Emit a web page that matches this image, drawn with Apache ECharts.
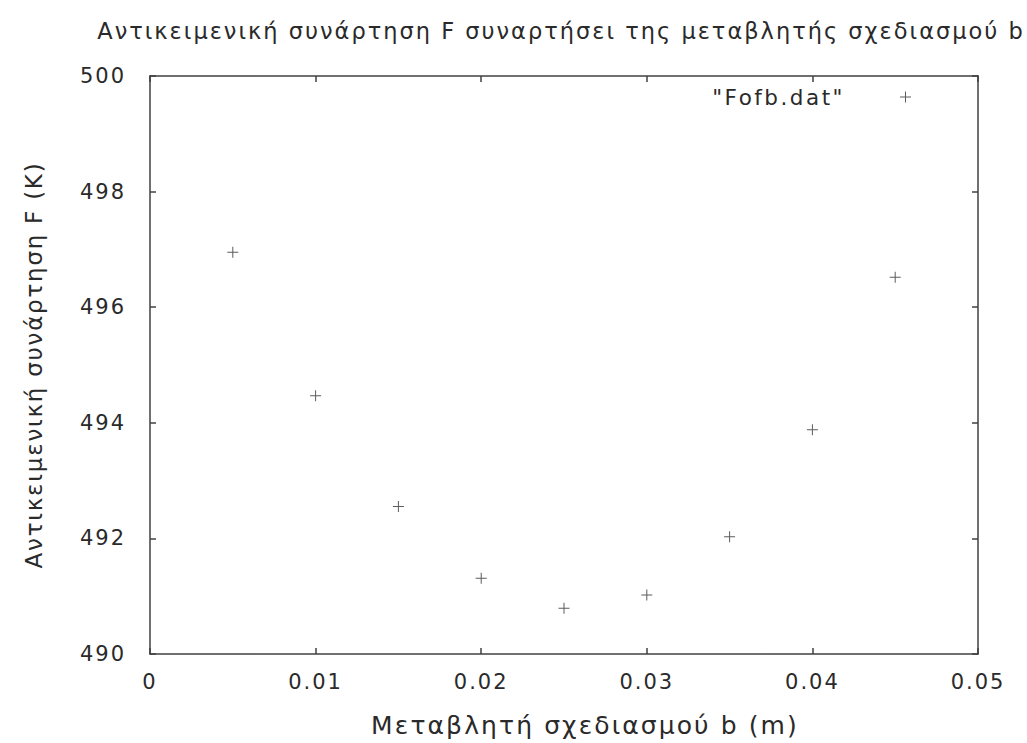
<!DOCTYPE html>
<html>
<head>
<meta charset="utf-8">
<script src="https://cdn.jsdelivr.net/npm/echarts@6/dist/echarts.min.js"></script>
<style>html,body{margin:0;padding:0;background:#fff}#c{width:1027px;height:743px}</style>
</head>
<body>
<div id="c"></div>
<script>
const titleText = 'Αντικειμενική συνάρτηση F συναρτήσει της μεταβλητής σχεδιασμού b';
const xName = 'Μεταβλητή σχεδιασμού b (m)';
const yName = 'Αντικειμενική συνάρτηση F (K)';
const seriesName = '"Fofb.dat"';
const bValues = [0.005, 0.010, 0.015, 0.020, 0.025, 0.030, 0.035, 0.040, 0.045];
const fValues = [496.95, 494.47, 492.55, 491.31, 490.79, 491.02, 492.03, 493.88, 496.52];

const plus = 'path://M5,0 L6,0 L6,5 L11,5 L11,6 L6,6 L6,11 L5,11 L5,6 L0,6 L0,5 L5,5 Z';
const font = 'DejaVu Sans';
const axisCol = '#404040';
const txt = '#2a2a2a';

// letter spacing per font size (the reference font is widely spaced)
const spacingBySize = {'22.5px': '2px', '25px': '2.1px', '21px': '2px', '21.5px': '2.5px', '23px': '1.75px'};

function frame(extra) {
  return Object.assign({
    axisLine: {show: true, onZero: false, lineStyle: {color: axisCol, width: 1.5}},
    axisTick: {show: true, inside: false, length: -6, lineStyle: {color: axisCol, width: 1.5}},
    splitLine: {show: false}
  }, extra);
}

const chart = echarts.init(document.getElementById('c'), null, {renderer: 'svg'});
chart.setOption({
  animation: false,
  backgroundColor: '#fff',
  title: {
    text: titleText, left: 556, top: 14, textAlign: 'center',
    textStyle: {fontFamily: font, fontWeight: 'normal', fontSize: 22.5, color: txt}
  },
  legend: {
    data: [{name: seriesName, icon: plus}],
    right: 111, top: 81, align: 'right', itemWidth: 11, itemHeight: 11,
    textStyle: {fontFamily: font, fontSize: 21.5, color: txt, padding: [0, 50, 0, 0]},
    itemStyle: {color: '#333'}
  },
  grid: {left: 150, right: 49, top: 76, bottom: 86, containLabel: false},
  xAxis: [
    frame({
      type: 'value', min: 0, max: 0.05, interval: 0.01, position: 'bottom',
      name: xName, nameLocation: 'middle', nameGap: 59,
      nameTextStyle: {fontFamily: font, fontSize: 25, color: txt, padding: [0, 0, 0, 42]},
      axisLabel: {fontFamily: font, fontSize: 21, color: txt, margin: 17}
    }),
    frame({
      type: 'value', min: 0, max: 0.05, interval: 0.01, position: 'top',
      axisLabel: {show: false}
    })
  ],
  yAxis: [
    frame({
      type: 'value', min: 490, max: 500, interval: 2, position: 'left',
      name: yName, nameLocation: 'middle', nameGap: 105, nameRotate: 90,
      nameTextStyle: {fontFamily: font, fontSize: 23, color: txt},
      axisLabel: {fontFamily: font, fontSize: 21, color: txt, margin: 24}
    }),
    frame({
      type: 'value', min: 490, max: 500, interval: 2, position: 'right',
      axisLabel: {show: false}
    })
  ],
  series: [{
    name: seriesName, type: 'scatter', xAxisIndex: 0, yAxisIndex: 0,
    symbol: plus, symbolSize: 11,
    itemStyle: {color: '#333'},
    data: bValues.map((b, i) => [b, fValues[i]])
  }]
});

function applySpacing() {
  document.querySelectorAll('#c svg text').forEach(t => {
    const fs = getComputedStyle(t).fontSize;
    const sp = spacingBySize[fs];
    if (sp) t.setAttribute('letter-spacing', sp);
  });
}
applySpacing();
chart.on('finished', applySpacing);
setTimeout(applySpacing, 0);
</script>
</body>
</html>
